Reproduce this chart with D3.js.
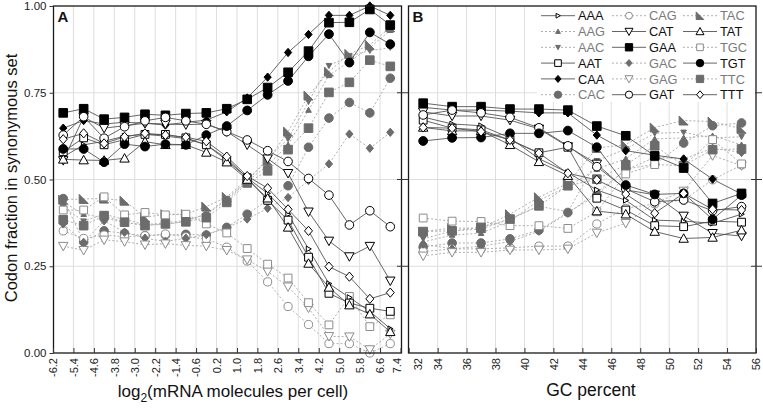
<!DOCTYPE html>
<html><head><meta charset="utf-8">
<script src="https://cdn.jsdelivr.net/npm/d3@7"></script>
<style>
html,body{margin:0;padding:0;background:#fff;}
svg{display:block;font-family:"Liberation Sans",Arial,sans-serif;}
</style></head>
<body><svg id="c" width="763" height="408"></svg>
<script>
// ---------- data ----------
const codons = ["AAA","AAG","AAC","AAT","CAA","CAC","CAG","CAT","GAA","GAC","GAG","GAT","TAC","TAT","TGC","TGT","TTC","TTT"];
const expressionBins = [-5.8,-5.0,-4.2,-3.4,-2.6,-1.8,-1.0,-0.2,0.6,1.4,2.2,3.0,3.8,4.6,5.4,6.2,7.0];
const gcBins = [33,35,37,39,41,43,45,47,49,51,53,55];
const expressionTicks = [-6.2,-5.4,-4.6,-3.8,-3.0,-2.2,-1.4,-0.6,0.2,1.0,1.8,2.6,3.4,4.2,5.0,5.8,6.6,7.4];
const gcTicks = [32,34,36,38,40,42,44,46,48,50,52,54,56];
const fractionTicks = [0,0.25,0.5,0.75,1];

// Panel A: fraction vs log2(mRNA molecules per cell)
const A_AAA = [0.565,0.600,0.610,0.625,0.630,0.625,0.618,0.600,0.560,0.505,0.460,0.400,0.300,0.200,0.160,0.120,0.070];
const A_AAG = [0.435,0.400,0.390,0.375,0.370,0.375,0.382,0.400,0.440,0.495,0.540,0.600,0.700,0.800,0.840,0.880,0.930];
const A_AAC = [0.420,0.380,0.400,0.385,0.370,0.370,0.380,0.400,0.445,0.495,0.560,0.617,0.724,0.828,0.856,0.871,0.880];
const A_AAT = [0.580,0.620,0.600,0.615,0.630,0.630,0.620,0.600,0.555,0.505,0.440,0.383,0.276,0.172,0.144,0.129,0.120];
const A_CAA = [0.648,0.670,0.660,0.665,0.662,0.657,0.665,0.671,0.695,0.735,0.795,0.866,0.918,0.973,0.973,1.000,0.973];
const A_CAC = [0.445,0.320,0.352,0.345,0.338,0.340,0.342,0.340,0.362,0.400,0.440,0.482,0.593,0.677,0.722,0.692,0.792];
const A_CAG = [0.352,0.330,0.340,0.335,0.338,0.343,0.335,0.329,0.305,0.265,0.205,0.134,0.082,0.027,0.027,0.000,0.027];
const A_CAT = [0.555,0.680,0.648,0.655,0.662,0.660,0.658,0.660,0.638,0.600,0.560,0.518,0.407,0.323,0.278,0.308,0.208];
const A_GAA = [0.692,0.704,0.674,0.679,0.688,0.685,0.690,0.692,0.704,0.731,0.765,0.809,0.870,0.952,0.953,0.990,0.945];
const A_GAC = [0.372,0.319,0.381,0.348,0.331,0.321,0.331,0.341,0.362,0.386,0.417,0.448,0.497,0.545,0.631,0.590,0.636];
const A_GAG = [0.308,0.296,0.326,0.321,0.312,0.315,0.310,0.308,0.296,0.269,0.235,0.191,0.130,0.048,0.047,0.010,0.055];
const A_GAT = [0.628,0.681,0.619,0.652,0.669,0.679,0.669,0.659,0.638,0.614,0.583,0.552,0.503,0.455,0.369,0.410,0.364];
const A_TAC = [0.442,0.444,0.445,0.439,0.391,0.400,0.400,0.422,0.450,0.500,0.554,0.638,0.742,0.811,0.862,0.888,0.939];
const A_TAT = [0.558,0.556,0.555,0.561,0.609,0.600,0.600,0.578,0.550,0.500,0.446,0.362,0.258,0.189,0.138,0.112,0.061];
const A_TGC = [0.412,0.412,0.450,0.398,0.405,0.398,0.400,0.372,0.346,0.301,0.256,0.216,0.145,0.081,0.163,0.076,0.110];
const A_TGT = [0.588,0.588,0.550,0.602,0.595,0.602,0.600,0.628,0.654,0.699,0.744,0.784,0.855,0.919,0.837,0.924,0.890];
const A_TTC = [0.384,0.367,0.396,0.377,0.367,0.372,0.378,0.390,0.434,0.490,0.525,0.586,0.648,0.751,0.780,0.844,0.826];
const A_TTT = [0.616,0.633,0.604,0.623,0.633,0.628,0.622,0.610,0.566,0.510,0.475,0.414,0.352,0.249,0.220,0.156,0.174];

// Panel B: fraction vs GC percent
const B_AAA = [0.680,0.660,0.655,0.620,0.560,0.520,0.470,0.440,0.383,0.380,0.374,0.400];
const B_AAG = [0.320,0.340,0.345,0.380,0.440,0.480,0.530,0.560,0.617,0.620,0.626,0.600];
const B_AAC = [0.329,0.352,0.357,0.386,0.423,0.407,0.554,0.588,0.633,0.636,0.620,0.623];
const B_AAT = [0.671,0.648,0.643,0.614,0.577,0.593,0.446,0.412,0.367,0.364,0.380,0.377];
const B_CAA = [0.708,0.700,0.700,0.697,0.692,0.692,0.628,0.583,0.570,0.559,0.501,0.458];
const B_CAC = [0.305,0.317,0.317,0.329,0.354,0.405,0.455,0.530,0.544,0.605,0.655,0.663];
const B_CAG = [0.292,0.300,0.300,0.303,0.308,0.308,0.372,0.417,0.430,0.441,0.499,0.542];
const B_CAT = [0.695,0.683,0.683,0.671,0.646,0.595,0.545,0.470,0.456,0.395,0.345,0.337];
const B_GAA = [0.720,0.710,0.710,0.703,0.703,0.700,0.654,0.626,0.568,0.533,0.431,0.460];
const B_GAC = [0.314,0.300,0.308,0.321,0.351,0.403,0.463,0.527,0.564,0.559,0.590,0.578];
const B_GAG = [0.280,0.290,0.290,0.297,0.297,0.300,0.346,0.374,0.432,0.467,0.569,0.540];
const B_GAT = [0.686,0.700,0.692,0.679,0.649,0.597,0.537,0.473,0.436,0.441,0.410,0.422];
const B_TAC = [0.350,0.360,0.360,0.400,0.449,0.489,0.591,0.600,0.650,0.670,0.667,0.646];
const B_TAT = [0.650,0.640,0.640,0.600,0.551,0.511,0.409,0.400,0.350,0.330,0.333,0.354];
const B_TGC = [0.389,0.380,0.379,0.367,0.367,0.359,0.407,0.516,0.543,0.540,0.615,0.545];
const B_TGT = [0.611,0.620,0.621,0.633,0.633,0.641,0.593,0.484,0.457,0.460,0.385,0.455];
const B_TTC = [0.350,0.352,0.362,0.386,0.424,0.482,0.501,0.542,0.597,0.540,0.586,0.588];
const B_TTT = [0.650,0.648,0.638,0.614,0.576,0.518,0.499,0.458,0.403,0.460,0.414,0.412];

const panelAValues = {AAA:A_AAA,AAG:A_AAG,AAC:A_AAC,AAT:A_AAT,CAA:A_CAA,CAC:A_CAC,CAG:A_CAG,CAT:A_CAT,GAA:A_GAA,GAC:A_GAC,GAG:A_GAG,GAT:A_GAT,TAC:A_TAC,TAT:A_TAT,TGC:A_TGC,TGT:A_TGT,TTC:A_TTC,TTT:A_TTT};
const panelBValues = {AAA:B_AAA,AAG:B_AAG,AAC:B_AAC,AAT:B_AAT,CAA:B_CAA,CAC:B_CAC,CAG:B_CAG,CAT:B_CAT,GAA:B_GAA,GAC:B_GAC,GAG:B_GAG,GAT:B_GAT,TAC:B_TAC,TAT:B_TAT,TGC:B_TGC,TGT:B_TGT,TTC:B_TTC,TTT:B_TTT};

// ---------- styles ----------
const markerStyle = {
  AAA:{shape:"rtri",s:2.8,fill:false}, AAG:{shape:"up",s:2.8,fill:true}, AAC:{shape:"down",s:2.8,fill:true},
  AAT:{shape:"square",s:3.9,fill:false}, CAA:{shape:"diamond",s:3.6,fill:true}, CAC:{shape:"circle",s:4.3,fill:true},
  CAG:{shape:"circle",s:4.1,fill:false}, CAT:{shape:"down",s:4.7,fill:false}, GAA:{shape:"square",s:4.3,fill:true},
  GAC:{shape:"diamond",s:3.6,fill:true}, GAG:{shape:"down",s:4.7,fill:false}, GAT:{shape:"circle",s:4.3,fill:false},
  TAC:{shape:"corner",s:4.5,fill:true}, TAT:{shape:"up",s:4.7,fill:false}, TGC:{shape:"square",s:3.9,fill:false},
  TGT:{shape:"circle",s:4.4,fill:true}, TTC:{shape:"square",s:4.3,fill:true}, TTT:{shape:"diamond",s:4,fill:false}
};
const isDark = c => c.endsWith("A") || c.endsWith("T");

function shapePath(shape, s){
  switch(shape){
    case "square": return `M${-s},${-s}H${s}V${s}H${-s}Z`;
    case "diamond": return `M0,${-s*1.15}L${s},0L0,${s*1.15}L${-s},0Z`;
    case "up": return `M0,${-s}L${s},${s*0.8}L${-s},${s*0.8}Z`;
    case "down": return `M0,${s}L${s},${-s*0.8}L${-s},${-s*0.8}Z`;
    case "rtri": return `M${s},0L${-s*0.8},${-s}L${-s*0.8},${s}Z`;
    case "corner": return `M${-s},${-s}L${-s},${s}L${s},${s}Z`;
    case "circle": return `M${s},0A${s},${s} 0 1,1 ${-s},0A${s},${s} 0 1,1 ${s},0Z`;
  }
}
function markerColors(c){
  const st = markerStyle[c];
  if (isDark(c)) return st.fill ? {fill:"#000",stroke:"#000"} : {fill:"#fff",stroke:"#000"};
  return st.fill ? {fill:"#6c6c6c",stroke:"#6c6c6c"} : {fill:"#fff",stroke:"#8c8c8c"};
}

// ---------- layout ----------
const svg = d3.select("#c");
const y = d3.scaleLinear().domain([0,1]).range([353,6]);
const xA = d3.scaleLinear().domain([-6.2,7.4]).range([53,400.5]);
const xB = d3.scaleLinear().domain([32,56]).range([408.7,756]);

function drawPanel(x, ticks, bins, values, left, right, label, fmt, opts){
  const g = svg.append("g");
  g.selectAll(".vg").data(ticks.slice(1,-1)).join("line")
    .attr("x1",d=>x(d)).attr("x2",d=>x(d)).attr("y1",y(1)).attr("y2",y(0))
    .attr("stroke","#dedede").attr("stroke-width",1);
  g.selectAll(".hg").data([0.25,0.5,0.75]).join("line")
    .attr("x1",left).attr("x2",right).attr("y1",d=>y(d)).attr("y2",d=>y(d))
    .attr("stroke","#dedede").attr("stroke-width",1);

  const line = d3.line().x((d,i)=>x(bins[i])).y(d=>y(d));
  const order = codons.filter(c=>!isDark(c)).concat(codons.filter(isDark));
  order.forEach(c=>{
    g.append("path").attr("d",line(values[c])).attr("fill","none")
      .attr("stroke",isDark(c)?"#555":"#b0b0b0")
      .attr("stroke-width",isDark(c)?0.9:1)
      .attr("stroke-dasharray",isDark(c)?null:"2,2");
  });
  order.forEach(c=>{
    const st = markerStyle[c], col = markerColors(c);
    g.selectAll(null).data(values[c]).join("path")
      .attr("transform",(d,i)=>`translate(${x(bins[i])},${y(d)})`)
      .attr("d",shapePath(st.shape,st.s))
      .attr("fill",col.fill).attr("stroke",col.stroke).attr("stroke-width",1);
  });
  svg.append("rect").attr("x",left).attr("y",6).attr("width",right-left).attr("height",347)
    .attr("fill","none").attr("stroke","#1a1a1a").attr("stroke-width",1.3);
  const ax = svg.append("g").attr("transform","translate(0,353)")
    .call(d3.axisBottom(x).tickValues(ticks).tickSizeInner(-5).tickSizeOuter(0).tickFormat(fmt));
  ax.select(".domain").remove();
  ax.selectAll(".tick line").attr("stroke","#333");
  ax.selectAll(".tick text").attr("transform","rotate(-90)").attr("text-anchor","end")
    .attr("x",-5).attr("y",0).attr("dy","0.35em").attr("dx",null)
    .attr("font-size",11).attr("fill","#222").style("font-family","Liberation Sans, Arial, sans-serif");
  if (opts && opts.shiftFirst) ax.selectAll(".tick text").filter((d,i)=>i===0).attr("dy","1.2em");
  if (opts && opts.shiftLast) ax.selectAll(".tick text").filter((d,i,n)=>i===n.length-1).attr("dy","0.0em");
  svg.append("text").attr("x",left+4).attr("y",21.5).text(label)
    .attr("font-weight","bold").attr("font-size",15).attr("fill","#111");
}

drawPanel(xA, expressionTicks, expressionBins, panelAValues, 53.5, 401.5, "A", d=>d.toFixed(1), {shiftLast:true});
drawPanel(xB, gcTicks, gcBins, panelBValues, 408.5, 756, "B", d=>String(d), {shiftFirst:true});

const ay = svg.append("g").attr("transform","translate(53.5,0)")
  .call(d3.axisLeft(y).tickValues(fractionTicks).tickSizeInner(4).tickSizeOuter(0).tickFormat(d=>d.toFixed(2)));
ay.select(".domain").remove();
ay.selectAll(".tick line").attr("stroke","#333");
ay.selectAll(".tick text").attr("font-size",11.5).attr("fill","#222").attr("x",-7)
  .style("font-family","Liberation Sans, Arial, sans-serif");
const sideTicks = [0.25,0.5,0.75];
svg.append("g").selectAll("line").data(sideTicks).join("line")
  .attr("x1",397).attr("x2",408.5).attr("y1",d=>y(d)).attr("y2",d=>y(d)).attr("stroke","#333");
svg.append("g").selectAll("line").data(sideTicks).join("line")
  .attr("x1",751).attr("x2",762).attr("y1",d=>y(d)).attr("y2",d=>y(d)).attr("stroke","#333");

svg.append("text").attr("transform","translate(17,178) rotate(-90)").attr("text-anchor","middle")
  .attr("font-size",16.5).attr("fill","#111").text("Codon fraction in synonymous set");
const t1 = svg.append("text").attr("x",233).attr("y",397).attr("text-anchor","middle")
  .attr("font-size",17).attr("fill","#111");
t1.append("tspan").text("log");
t1.append("tspan").attr("font-size",12).attr("dy",5).text("2");
t1.append("tspan").attr("dy",-5).text("(mRNA molecules per cell)");
svg.append("text").attr("x",591).attr("y",396).attr("text-anchor","middle")
  .attr("font-size",17.5).attr("fill","#111").text("GC percent");

const lg = svg.append("g");
lg.append("rect").attr("x",537).attr("y",7).attr("width",218).attr("height",95).attr("fill","#fff");
const colX = [541,612,683];
codons.forEach((c,i)=>{
  const col = Math.floor(i/6), row = i%6;
  const x0 = colX[col], yy = 15.7 + row*15.8;
  const dark = isDark(c);
  lg.append("line").attr("x1",x0).attr("x2",x0+34).attr("y1",yy).attr("y2",yy)
    .attr("stroke",dark?"#555":"#b0b0b0").attr("stroke-width",dark?0.9:1)
    .attr("stroke-dasharray",dark?null:"2,2");
  const st = markerStyle[c], mc = markerColors(c);
  lg.append("path").attr("transform",`translate(${x0+17},${yy})`).attr("d",shapePath(st.shape,st.s*0.85))
    .attr("fill",mc.fill).attr("stroke",mc.stroke).attr("stroke-width",1);
  lg.append("text").attr("x",x0+37).attr("y",yy).attr("dy","0.36em").attr("font-size",12.8)
    .attr("fill",dark?"#111":"#7a7a7a").text(c);
});
</script></body></html>
